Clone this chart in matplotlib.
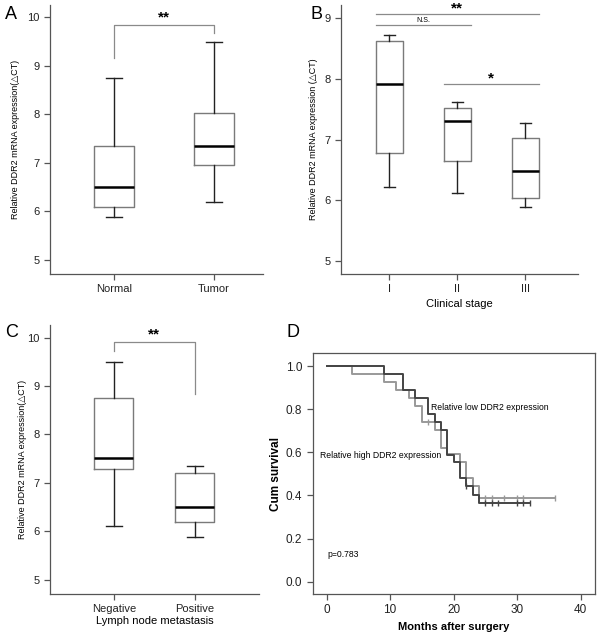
import numpy as np
import matplotlib
matplotlib.use('Agg')
import matplotlib.pyplot as plt

plt.rcParams['font.family'] = ['Liberation Sans', 'DejaVu Sans']

# box statistics: whisker low, Q1, median, Q3, whisker high
a_groups = ['Normal', 'Tumor']
a_stats = [[5.88, 6.10, 6.50, 7.35, 8.75],
           [6.20, 6.95, 7.35, 8.02, 9.50]]

b_groups = ['I', 'II', 'III']
b_stats = [[6.22, 6.78, 7.92, 8.62, 8.73],
           [6.12, 6.65, 7.30, 7.52, 7.62],
           [5.88, 6.04, 6.48, 7.03, 7.28]]

c_groups = ['Negative', 'Positive']
c_stats = [[6.12, 7.28, 7.52, 8.75, 9.50],
           [5.88, 6.20, 6.50, 7.20, 7.35]]

# Kaplan-Meier steps (months, survival)
low_t = [0, 9, 12, 14, 16, 17, 18, 19, 20, 21, 22, 23, 24, 32]
low_s = [1.0, 0.963, 0.889, 0.853, 0.776, 0.742, 0.703, 0.587, 0.555, 0.480, 0.445, 0.400, 0.365, 0.365]
low_cens = [22, 25, 26, 27, 30, 31, 32]
high_t = [0, 4, 9, 11, 13, 14, 15, 17, 18, 19, 20, 21, 22, 23, 24, 36]
high_s = [1.0, 0.963, 0.926, 0.889, 0.852, 0.815, 0.742, 0.703, 0.620, 0.590, 0.590, 0.555, 0.480, 0.445, 0.386, 0.386]
high_cens = [16, 25, 26, 28, 30, 31, 36]

BOXC = '#7a7a7a'
LINEC = '#8a8a8a'
SPC = '#555555'


def boxes(ax, stats, width):
    bxp = []
    for s in stats:
        bxp.append({'whislo': s[0], 'q1': s[1], 'med': s[2], 'q3': s[3], 'whishi': s[4], 'fliers': []})
    ax.bxp(bxp, positions=range(1, len(stats) + 1), widths=width, showfliers=False,
           boxprops=dict(color=BOXC, lw=1.0),
           whiskerprops=dict(color='#222222', lw=1.0),
           capprops=dict(color='#222222', lw=1.0),
           medianprops=dict(color='black', lw=1.8), capwidths=width * 0.4)


def style(ax):
    for sp in ['top', 'right']:
        ax.spines[sp].set_visible(False)
    for sp in ['left', 'bottom']:
        ax.spines[sp].set_color(SPC)
        ax.spines[sp].set_linewidth(0.9)
    ax.tick_params(colors='#222222', labelsize=8, length=4, color=SPC, width=0.9)


fig = plt.figure(figsize=(6, 6.38), dpi=100)

# A
axA = fig.add_axes([0.0833, 0.5705, 0.355, 0.4215])
boxes(axA, a_stats, 0.4)
style(axA)
axA.set_xlim(0.36, 2.49)
axA.set_ylim(4.71, 10.25)
axA.set_yticks([5, 6, 7, 8, 9, 10])
axA.set_xticks([1, 2])
axA.set_xticklabels(a_groups, fontsize=8)
axA.set_ylabel('Relative DDR2 mRNA expression(\u25b3CT)', fontsize=6.5)
axA.yaxis.set_label_coords(-0.14, 0.5)
axA.plot([1, 1, 2, 2], [9.15, 9.84, 9.84, 9.67], color=LINEC, lw=0.9)
axA.text(1.5, 9.86, '**', ha='center', va='bottom', fontsize=11, fontweight='bold')

# B
axB = fig.add_axes([0.568, 0.5705, 0.395, 0.4215])
boxes(axB, b_stats, 0.39)
style(axB)
axB.set_xlim(0.285, 3.77)
axB.set_ylim(4.78, 9.22)
axB.set_yticks([5, 6, 7, 8, 9])
axB.set_xticks([1, 2, 3])
axB.set_xticklabels(b_groups, fontsize=8)
axB.set_xlabel('Clinical stage', fontsize=8, labelpad=3)
axB.set_ylabel('Relative DDR2 mRNA expression (\u25b3CT)', fontsize=6.5)
axB.yaxis.set_label_coords(-0.095, 0.5)
axB.plot([0.8, 3.2], [9.07, 9.07], color=LINEC, lw=0.9)
axB.plot([0.8, 2.2], [8.89, 8.89], color=LINEC, lw=0.9)
axB.plot([1.8, 3.2], [7.92, 7.92], color=LINEC, lw=0.9)
axB.text(2.0, 9.05, '**', ha='center', va='bottom', fontsize=11, fontweight='bold')
axB.text(1.5, 8.91, 'N.S.', ha='center', va='bottom', fontsize=5)
axB.text(2.5, 7.90, '*', ha='center', va='bottom', fontsize=11, fontweight='bold')

# C
axC = fig.add_axes([0.0833, 0.069, 0.348, 0.421])
boxes(axC, c_stats, 0.48)
style(axC)
axC.set_xlim(0.21, 2.79)
axC.set_ylim(4.71, 10.25)
axC.set_yticks([5, 6, 7, 8, 9, 10])
axC.set_xticks([1, 2])
axC.set_xticklabels(c_groups, fontsize=8)
axC.set_xlabel('Lymph node metastasis', fontsize=8, labelpad=1)
axC.set_ylabel('Relative DDR2 mRNA expression(\u25b3CT)', fontsize=6.5)
axC.yaxis.set_label_coords(-0.11, 0.5)
axC.plot([1, 1, 2, 2], [9.73, 9.90, 9.90, 8.84], color=LINEC, lw=0.9)
axC.text(1.5, 9.92, '**', ha='center', va='bottom', fontsize=11, fontweight='bold')

# D
axD = fig.add_axes([0.521, 0.069, 0.470, 0.3772])
axD.step(high_t, high_s, where='post', color='#999999', lw=1.4)
axD.step(low_t, low_s, where='post', color='#444444', lw=1.4)
hs = [high_s[max(i for i, t in enumerate(high_t) if t <= c)] for c in high_cens]
ls = [low_s[max(i for i, t in enumerate(low_t) if t <= c)] for c in low_cens]
axD.plot(high_cens, hs, '|', color='#999999', ms=5, mew=1.0)
axD.plot(low_cens, ls, '|', color='#444444', ms=5, mew=1.0)
axD.set_xlim(-2.2, 42.2)
axD.set_ylim(-0.057, 1.059)
axD.set_xticks([0, 10, 20, 30, 40])
axD.set_yticks([0.0, 0.2, 0.4, 0.6, 0.8, 1.0])
axD.set_yticklabels(['0.0', '0.2', '0.4', '0.6', '0.8', '1.0'])
for sp in axD.spines.values():
    sp.set_color(SPC)
    sp.set_linewidth(0.9)
axD.tick_params(colors='#222222', labelsize=8.5, length=4, color=SPC, width=0.9)
axD.set_xlabel('Months after surgery', fontsize=8, fontweight='bold', labelpad=4)
axD.set_ylabel('Cum survival', fontsize=8.5, fontweight='bold')
axD.yaxis.set_label_coords(-0.11, 0.5)
axD.text(16.5, 0.81, 'Relative low DDR2 expression', fontsize=6.2, va='center')
axD.text(-1.05, 0.587, 'Relative high DDR2 expression', fontsize=6.2, va='center')
axD.text(0.1, 0.124, 'p=0.783', fontsize=6.2, va='center')

# panel letters
for x, y, s in [(0.008, 0.99, 'A'), (0.518, 0.99, 'B'), (0.008, 0.492, 'C'), (0.478, 0.492, 'D')]:
    fig.text(x, y, s, fontsize=13, va='top', ha='left')

fig.savefig('out.png', dpi=100)
